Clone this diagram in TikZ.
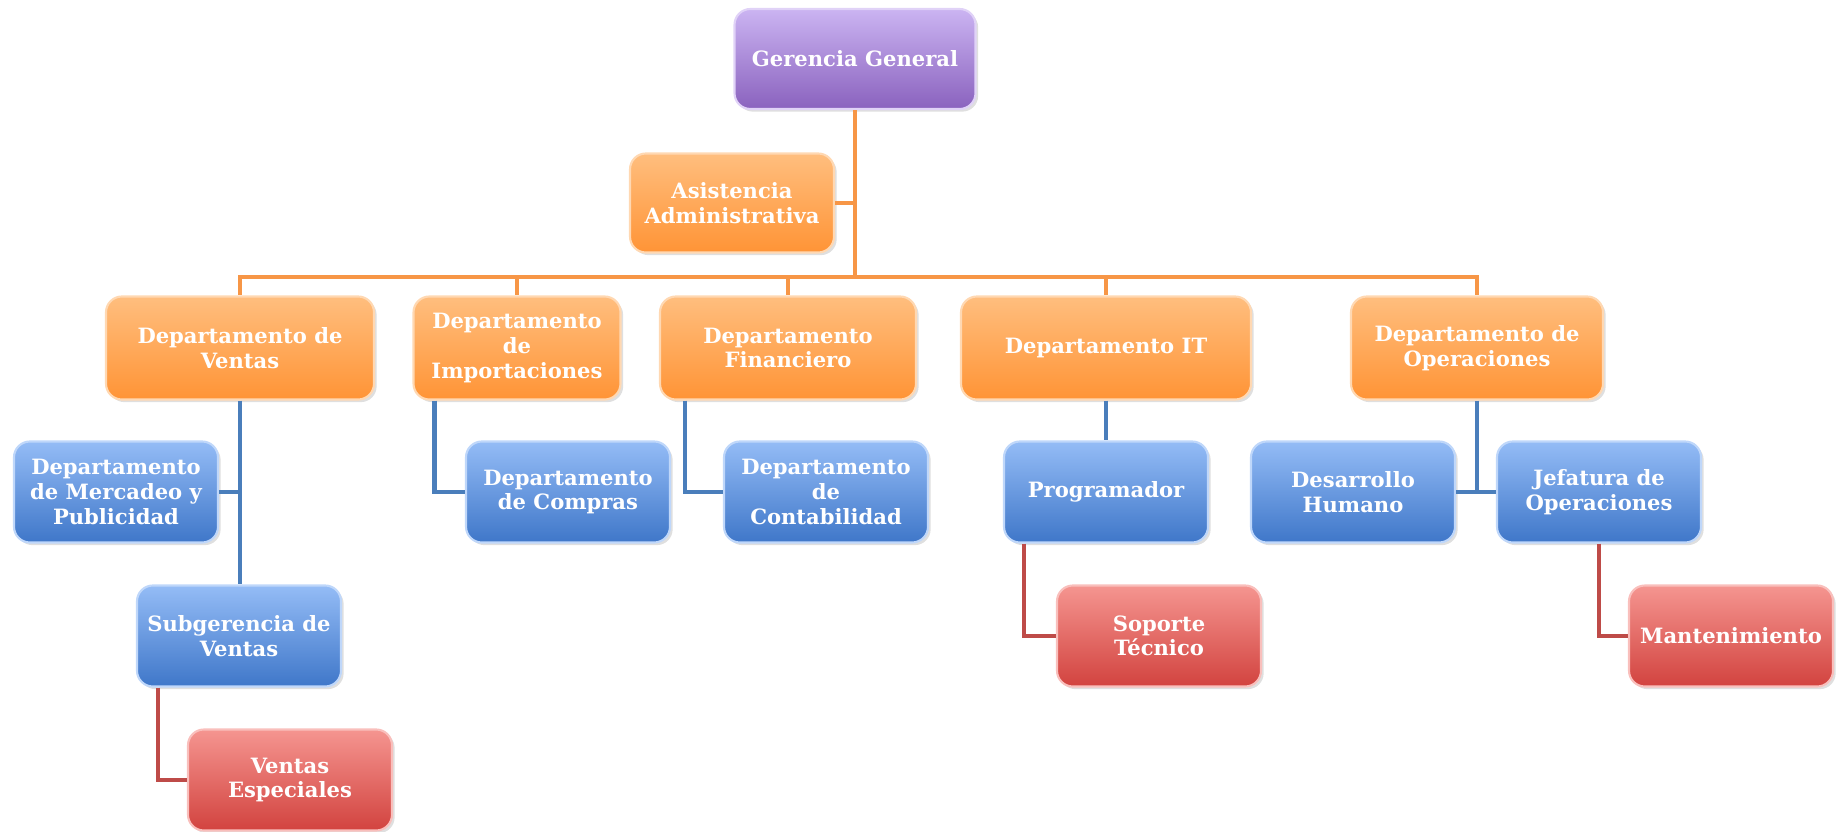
\documentclass[tikz,border=0pt]{standalone}
\usepackage{fontspec}
\setmainfont{DejaVu Serif}
\usetikzlibrary{shadows}

\definecolor{mypurple}{HTML}{8A62BE}
\definecolor{mypurpletop}{HTML}{CBB4F2}
\definecolor{myorange}{HTML}{FF9436}
\definecolor{myorangetop}{HTML}{FFBE7E}
\definecolor{myblue}{HTML}{3F77C9}
\definecolor{mybluetop}{HTML}{94BCF6}
\definecolor{myred}{HTML}{D2433F}
\definecolor{myredtop}{HTML}{F59590}
\definecolor{mylineo}{HTML}{F79646}
\definecolor{mylineb}{HTML}{4A7EBB}
\definecolor{myliner}{HTML}{BE4B48}

\begin{document}
\begin{tikzpicture}

\tikzstyle{mybox}=[
  rectangle,
  rounded corners=9pt,
  align=center,
  text=white,
  font=\bfseries\fontsize{12}{14}\selectfont,
  inner sep=1pt,
  line width=1.2pt,
  drop shadow={opacity=0.25, shadow xshift=1.5pt, shadow yshift=-1.5pt},
  minimum height=2.02cm,
  minimum width=4.08cm]

\tikzstyle{myboxpurple}=[mybox, top color=mypurpletop, bottom color=mypurple, draw=mypurpletop!60!white]
\tikzstyle{myboxorange}=[mybox, top color=myorangetop, bottom color=myorange, draw=myorangetop!60!white]
\tikzstyle{myboxblue}=[mybox, top color=mybluetop, bottom color=myblue, draw=mybluetop!60!white]
\tikzstyle{myboxred}=[mybox, top color=myredtop, bottom color=myred, draw=myredtop!60!white]

\tikzstyle{mylineorange}=[line width=2.5pt, mylineo]
\tikzstyle{mylineblue}=[line width=2.5pt, mylineb]
\tikzstyle{mylinered}=[line width=2.5pt, myliner]

\useasboundingbox (0,0) rectangle (36.84,-16.64);

% define points
\path
  (17.10,-1.18) coordinate(GG)
  (14.64,-4.06) coordinate(AA)
  (17.10,-5.54) coordinate(BUS)
  (4.80,-6.96) coordinate(D1)
  (10.34,-6.96) coordinate(D2)
  (15.76,-6.96) coordinate(D3)
  (22.12,-6.96) coordinate(D4)
  (29.54,-6.96) coordinate(D5)
  ;

% top
\node[myboxpurple, minimum width=4.82cm, minimum height=2cm] (gg) at (GG) {Gerencia General};
\node[myboxorange, minimum height=1.98cm] (asis) at (AA) {Asistencia\\Administrativa};

% departments
\node[myboxorange, minimum width=5.36cm, minimum height=2.06cm] (vent) at (D1) {Departamento de\\Ventas};
\node[myboxorange, minimum width=4.14cm, minimum height=2.06cm] (imp) at (D2) {Departamento\\de\\Importaciones};
\node[myboxorange, minimum width=5.12cm, minimum height=2.06cm] (fin) at (D3) {Departamento\\Financiero};
\node[myboxorange, minimum width=5.80cm, minimum height=2.06cm] (it) at (D4) {Departamento IT};
\node[myboxorange, minimum width=5.04cm, minimum height=2.06cm] (ope) at (D5) {Departamento de\\Operaciones};

% second level
\node[myboxblue] (merc) at (2.32,-9.84) {Departamento\\de Mercadeo y\\Publicidad};
\node[myboxblue] (comp) at (11.36,-9.84) {Departamento\\de Compras};
\node[myboxblue] (cont) at (16.52,-9.84) {Departamento\\de\\Contabilidad};
\node[myboxblue] (prog) at (22.12,-9.84) {Programador};
\node[myboxblue] (dh) at (27.06,-9.84) {Desarrollo\\Humano};
\node[myboxblue] (jef) at (31.98,-9.84) {Jefatura de\\Operaciones};
\node[myboxblue] (sub) at (4.78,-12.72) {Subgerencia de\\Ventas};

% third level
\node[myboxred] (sop) at (23.18,-12.72) {Soporte\\Técnico};
\node[myboxred] (mant) at (34.62,-12.72) {Mantenimiento};
\node[myboxred] (vesp) at (5.80,-15.60) {Ventas\\Especiales};

% draw lines
\draw[mylineorange] (gg.south) -- (BUS);
\draw[mylineorange] (asis.east) -- (asis.east -| gg.south);
\foreach \d in {vent,imp,fin,it,ope}
  \draw[mylineorange] (BUS) -| (\d.north);

\draw[mylineblue] (vent.south) -- (vent.south |- sub.north);
\draw[mylineblue] (merc.east) -- (merc.east -| vent.south);
\draw[mylineblue] ([xshift=0.44cm]imp.south west) |- (comp.west);
\draw[mylineblue] ([xshift=0.52cm]fin.south west) |- (cont.west);
\draw[mylineblue] (it.south) -- (prog.north);
\draw[mylineblue] (ope.south) -- (ope.south |- dh.east);
\draw[mylineblue] (dh.east) -- (jef.west);

\draw[mylinered] ([xshift=0.44cm]sub.south west) |- (vesp.west);
\draw[mylinered] ([xshift=0.42cm]prog.south west) |- (sop.west);
\draw[mylinered] (jef.south) |- (mant.west);

\end{tikzpicture}
\end{document}
